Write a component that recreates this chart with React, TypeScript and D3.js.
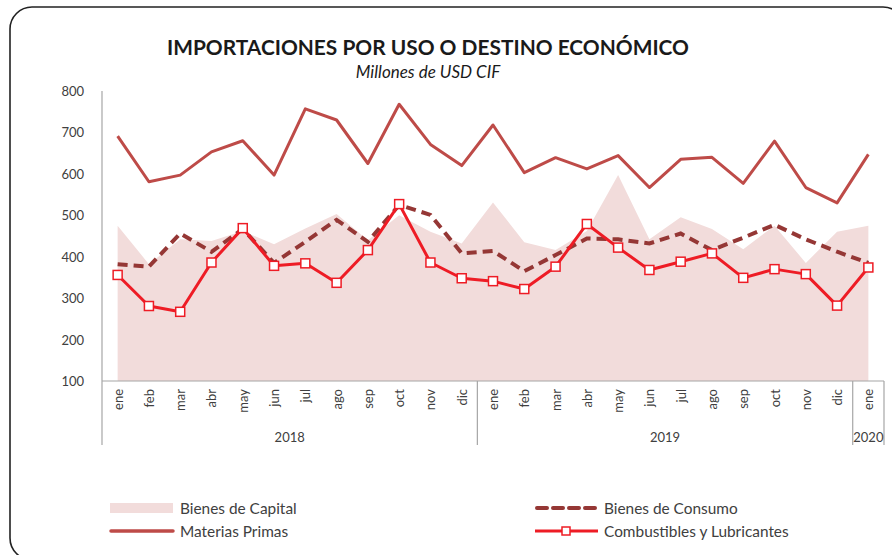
import React from "react";
import * as d3 from "d3";

const months = ["ene","feb","mar","abr","may","jun","jul","ago","sep","oct","nov","dic","ene","feb","mar","abr","may","jun","jul","ago","sep","oct","nov","dic","ene"];
const years = [
  { label: "2018", start: 0, end: 11 },
  { label: "2019", start: 12, end: 23 },
  { label: "2020", start: 24, end: 24 },
];
const yTicks = [100, 200, 300, 400, 500, 600, 700, 800];

const bienesCapital = [475, 382, 442, 438, 462, 430, 468, 503, 440, 500, 460, 432, 531, 435, 416, 462, 597, 442, 495, 467, 418, 475, 385, 460, 475];
const bienesConsumo = [382, 376, 456, 412, 467, 385, 436, 489, 436, 525, 501, 408, 414, 365, 404, 444, 442, 432, 456, 416, 446, 477, 442, 412, 385];
const materiasPrimas = [691, 581, 597, 653, 680, 597, 757, 730, 625, 768, 671, 620, 718, 603, 639, 612, 644, 567, 635, 640, 577, 679, 567, 530, 647];
const combustibles = [356, 281, 267, 386, 469, 378, 384, 337, 416, 527, 386, 348, 341, 322, 376, 479, 422, 368, 388, 408, 349, 370, 358, 282, 374];

const FONT = "Lato, 'Open Sans', sans-serif";
const C_CAP = "#f2dcdb";
const C_MAT = "#be4b48";
const C_CONS = "#953735";
const C_COMB = "#ee1c25";
const AXIS = "#a6a6a6";
const TXT = "#404040";

export default function App() {
  const W = 892, H = 555;
  const x = d3.scaleBand<number>().domain(months.map((_, i) => i)).range([102, 884]).padding(0);
  const cx = (i: number) => (x(i) as number) + x.bandwidth() / 2;
  const y = d3.scaleLinear().domain([100, 800]).range([381, 91]);

  const area = d3.area<number>().x((_, i) => cx(i)).y0(y(100)).y1((d) => y(d));
  const line = d3.line<number>().x((_, i) => cx(i)).y((d) => y(d));

  const sepXs = [102, ...years.map((yr) => (x(yr.end) as number) + x.bandwidth())];

  return (
    <svg width={W} height={H} style={{ position: "absolute", left: 0, top: 0 }} fontFamily={FONT}>
      <rect x={0} y={0} width={W} height={H} fill="#ffffff" />
      <rect x={10} y={7} width={895} height={553} rx={22} ry={22} fill="none" stroke="#222" strokeWidth={1.6} />

      <text x={428} y={55} textAnchor="middle" fontSize={21} fontWeight={700} fill="#1a1a1a" textLength={522} lengthAdjust="spacingAndGlyphs">
        IMPORTACIONES POR USO O DESTINO ECONÓMICO
      </text>
      <text x={428} y={78} textAnchor="middle" fontSize={17} fontStyle="italic" fill="#1a1a1a">
        Millones de USD CIF
      </text>

      {/* y axis */}
      <line x1={102} x2={102} y1={y(800)} y2={y(100)} stroke={AXIS} strokeWidth={1.2} />
      {yTicks.map((t) => (
        <text key={t} x={84} y={y(t)} textAnchor="end" dominantBaseline="central" fontSize={13} fill={TXT}>
          {t}
        </text>
      ))}

      {/* area */}
      <path d={area(bienesCapital) || ""} fill={C_CAP} />

      {/* x axis */}
      <line x1={102} x2={884} y1={y(100)} y2={y(100)} stroke={AXIS} strokeWidth={1.2} />
      {sepXs.map((sx, i) => (
        <line key={i} x1={sx} x2={sx} y1={y(100)} y2={445} stroke={AXIS} strokeWidth={1.2} />
      ))}
      {months.map((m, i) => (
        <text key={i} transform={`translate(${cx(i)},389) rotate(-90)`} textAnchor="end" dominantBaseline="central" fontSize={13} fill={TXT}>
          {m}
        </text>
      ))}
      {years.map((yr) => (
        <text key={yr.label} x={(cx(yr.start) + cx(yr.end)) / 2} y={437} textAnchor="middle" dominantBaseline="central" fontSize={13} fill={TXT}>
          {yr.label}
        </text>
      ))}

      {/* lines */}
      <path d={line(materiasPrimas) || ""} fill="none" stroke={C_MAT} strokeWidth={3} strokeLinejoin="round" />
      <path d={line(bienesConsumo) || ""} fill="none" stroke={C_CONS} strokeWidth={4} strokeDasharray="10,6" />
      <path d={line(combustibles) || ""} fill="none" stroke={C_COMB} strokeWidth={3} strokeLinejoin="round" />
      {combustibles.map((v, i) => (
        <rect key={i} x={cx(i) - 4.5} y={y(v) - 4.5} width={9} height={9} fill="#fff" stroke={C_COMB} strokeWidth={1.5} />
      ))}

      {/* legend */}
      <rect x={110} y={503} width={63} height={10} fill={C_CAP} />
      <text x={180} y={508} dominantBaseline="central" fontSize={15.4} fill={TXT}>Bienes de Capital</text>
      <line x1={111} x2={173} y1={531} y2={531} stroke={C_MAT} strokeWidth={3.5} strokeLinecap="round" />
      <text x={180} y={531} dominantBaseline="central" fontSize={15.4} fill={TXT}>Materias Primas</text>

      <line x1={537} x2={597} y1={508} y2={508} stroke={C_CONS} strokeWidth={4} strokeDasharray="10,6" strokeLinecap="round" />
      <text x={604} y={508} dominantBaseline="central" fontSize={15.4} fill={TXT}>Bienes de Consumo</text>
      <line x1={535} x2={598} y1={531} y2={531} stroke={C_COMB} strokeWidth={3} />
      <rect x={562} y={527} width={8} height={8} fill="#fff" stroke={C_COMB} strokeWidth={1.5} />
      <text x={604} y={531} dominantBaseline="central" fontSize={15.4} fill={TXT}>Combustibles y Lubricantes</text>
    </svg>
  );
}
